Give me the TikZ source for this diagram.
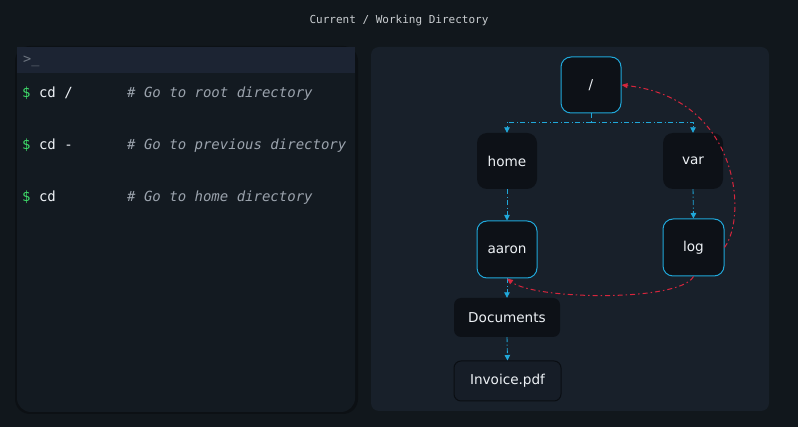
\documentclass[tikz,border=0pt]{standalone}
\usepackage{fontspec}
\setmainfont{DejaVu Sans}
\newfontfamily\monofont{DejaVu Sans Mono}
\usetikzlibrary{arrows.meta}
\definecolor{bgc}{HTML}{11171C}
\definecolor{termbody}{HTML}{131A21}
\definecolor{termhead}{HTML}{1C2433}
\definecolor{promptc}{HTML}{6E7681}
\definecolor{panelc}{HTML}{18202A}
\definecolor{nodefill}{HTML}{0D1117}
\definecolor{cyanc}{HTML}{20A8DA}
\definecolor{redc}{HTML}{D7263D}
\definecolor{invfill}{HTML}{161D27}
\definecolor{invborder}{HTML}{0A0E13}
\definecolor{textc}{HTML}{EEF2F6}
\definecolor{greenc}{HTML}{3FDC6A}
\definecolor{commentc}{HTML}{9BA3AD}
\definecolor{shadowc}{HTML}{0C1014}
\tikzset{
  dirbox/.style={rounded corners=10pt, fill=nodefill, text=textc, font=\fontsize{13.6}{15}\selectfont, inner sep=0pt, align=center},
  hl/.style={draw=cyanc, line width=1pt},
  tlink/.style={draw=cyanc, line width=0.9pt, dash pattern=on 5pt off 2.5pt on 1pt off 2.5pt, -{Triangle[length=5.5pt,width=5.5pt]}},
  tline/.style={draw=cyanc, line width=0.9pt, dash pattern=on 5pt off 2.5pt on 1pt off 2.5pt},
  rlink/.style={draw=redc, line width=1pt, dash pattern=on 5pt off 3pt on 1.5pt off 3pt, -{Triangle[length=6pt,width=5pt]}},
  termtxt/.style={anchor=west, inner sep=0pt, font=\monofont\fontsize{14}{16}\selectfont, text=textc},
  cmt/.style={anchor=west, inner sep=0pt, font=\monofont\itshape\fontsize{14}{16}\selectfont, text=commentc},
}
\begin{document}
\begin{tikzpicture}[x=1pt,y=-1pt]
\useasboundingbox (0,0) rectangle (798,427);
\fill[bgc] (0,0) rectangle (798,427);
% title
\node[font=\monofont\fontsize{11}{13}\selectfont, text=textc!85!black] (title) at (399,21) {Current / Working Directory};
% terminal shadow
\fill[shadowc, rounded corners=15pt] (15,46) rectangle (358,414);
% terminal body
\fill[termbody, rounded corners=14pt] (17,47) rectangle (355,412);
\fill[termbody] (17,47) rectangle (355,90);
\fill[termhead] (17,47) rectangle (355,73);
\node[anchor=west, inner sep=0pt, text=promptc, font=\monofont\fontsize{13.5}{15}\selectfont] (prompt) at (23,61) {>\_};
% commands
\node[termtxt] (c1) at (22,93.5) {\textcolor{greenc}{\$} cd /};
\node[cmt] (m1) at (127,93.5) {\# Go to root directory};
\node[termtxt] (c2) at (22,145.5) {\textcolor{greenc}{\$} cd -};
\node[cmt] (m2) at (127,145.5) {\# Go to previous directory};
\node[termtxt] (c3) at (22,197.5) {\textcolor{greenc}{\$} cd};
\node[cmt] (m3) at (127,197.5) {\# Go to home directory};
% right panel
\fill[panelc, rounded corners=8pt] (371,47) rectangle (769,411);
% nodes
\node[dirbox, hl, minimum width=60pt, minimum height=56pt] (root) at (591,85) {/};
\node[dirbox, minimum width=60pt, minimum height=56pt] (home) at (507,161) {home};
\node[dirbox, minimum width=60pt, minimum height=56pt] (var) at (693,161) {var};
\node[dirbox, hl, minimum width=60pt, minimum height=57pt] (aaron) at (507,249.5) {aaron};
\node[dirbox, hl, minimum width=61pt, minimum height=57pt] (log) at (693.5,247.5) {log};
\node[dirbox, rounded corners=7pt, minimum width=106pt, minimum height=39pt] (docs) at (507,317.5) {Documents};
\node[dirbox, rounded corners=7pt, fill=invfill, draw=invborder, line width=1pt, minimum width=107pt, minimum height=40pt] (inv) at (507.5,381) {Invoice.pdf};
% tree connectors
\coordinate (split) at (591,122);
\draw[tline] (root.south) -- (split);
\draw[tlink] (split) -| (home.north);
\draw[tlink] (split) -| (var.north);
\draw[tlink] (home.south) -- (aaron.north);
\draw[tlink] (var.south) -- (log.north);
\draw[tlink] (aaron.south) -- (docs.north);
\draw[tlink] (docs.south) -- (inv.north);
% red jumps
\draw[rlink] (log.east) .. controls (748,215) and (738,98) .. (root.east);
\draw[rlink] (log.south) .. controls (680,302) and (535,300) .. (aaron.south);
\end{tikzpicture}
\end{document}
